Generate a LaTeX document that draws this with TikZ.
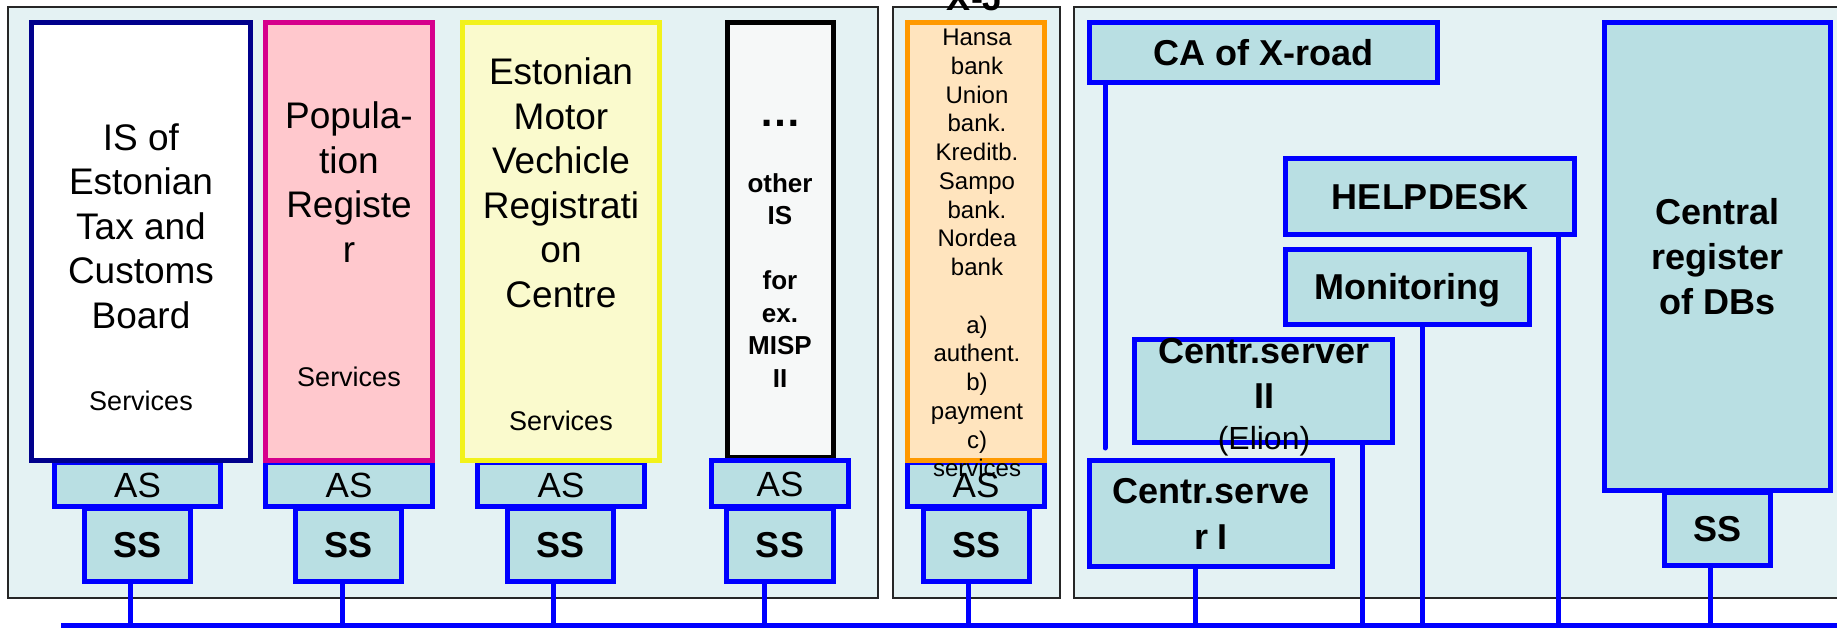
\documentclass[tikz,border=0pt]{standalone}
\usepackage{fontspec}
\setmainfont{Liberation Sans}
\definecolor{xblue}{RGB}{0,0,255}
\definecolor{xteal}{RGB}{185,223,227}
\definecolor{xpanel}{RGB}{228,242,243}
\definecolor{xnavy}{RGB}{0,0,140}
\definecolor{xmag}{RGB}{214,0,140}
\definecolor{xpink}{RGB}{255,200,205}
\definecolor{xyel}{RGB}{242,242,26}
\definecolor{xyelfill}{RGB}{250,250,205}
\definecolor{xorange}{RGB}{255,153,0}
\definecolor{xorfill}{RGB}{255,228,190}
\definecolor{xoff}{RGB}{246,248,248}
\begin{document}
\begin{tikzpicture}[x=1pt,y=-1pt,
  box/.style={rectangle, draw=xblue, fill=xteal, line width=5pt, inner sep=0pt},
  isbox/.style={rectangle, line width=5pt, inner sep=0pt},
  panel/.style={draw=black!85, line width=2pt, fill=xpanel},
  conn/.style={draw=xblue, line width=5pt},
  astxt/.style={font=\fontsize{35}{42}\selectfont, text height=25pt, text depth=0pt},
  sstxt/.style={font=\fontsize{36}{44}\selectfont\bfseries, text height=25.8pt, text depth=0pt},
  labtxt/.style={font=\fontsize{36}{45}\selectfont\bfseries, text height=25.8pt, text depth=0pt},
  big/.style={font=\fontsize{37}{44.5}\selectfont, align=center, inner sep=0pt},
  svc/.style={font=\fontsize{27}{32}\selectfont, inner sep=0pt},
  othtxt/.style={font=\fontsize{26}{32.5}\selectfont\bfseries, align=center, inner sep=0pt},
  bank/.style={font=\fontsize{24}{28.75}\selectfont, align=center, inner sep=0pt},
  mlab/.style={font=\fontsize{36}{45}\selectfont\bfseries, align=center, inner sep=0pt}
]
\useasboundingbox (0,0) rectangle (1837,628);
\clip (0,0) rectangle (1837,628);
% panels
\draw[panel] (8,7) rectangle (878,598);
\draw[panel] (893,7) rectangle (1060,598);
\draw[panel] (1074,7) rectangle (1860,598);
% title (cut off at top)
\node[anchor=base, inner sep=0pt, font=\fontsize{36}{40}\selectfont\bfseries] (title) at (975,11) {X-J};
% column 1
\node[box, astxt, minimum width=166pt, minimum height=44pt] (AS1) at (137.5,484.5) {AS};
\node[box, sstxt, minimum width=106pt, minimum height=73pt] (SS1) at (137.5,545) {SS};
\node[isbox, draw=xnavy, fill=white, minimum width=219pt, minimum height=438pt] (IS1) at (141,241.5) {};
% column 2
\node[box, astxt, minimum width=167pt, minimum height=44pt] (AS2) at (349,484.5) {AS};
\node[box, sstxt, minimum width=106pt, minimum height=73pt] (SS2) at (348.5,545) {SS};
\node[isbox, draw=xmag, fill=xpink, minimum width=167pt, minimum height=438pt] (POP) at (349,241.5) {};
% column 3
\node[box, astxt, minimum width=167pt, minimum height=44pt] (AS3) at (561,484.5) {AS};
\node[box, sstxt, minimum width=106pt, minimum height=73pt] (SS3) at (560.5,545) {SS};
\node[isbox, draw=xyel, fill=xyelfill, minimum width=197pt, minimum height=438pt] (MOT) at (561,241.5) {};
% column 4
\node[isbox, draw=black, fill=xoff, minimum width=106pt, minimum height=435pt] (OTH) at (780.5,240) {};
\node[box, astxt, minimum width=137pt, minimum height=46pt] (AS4) at (780,483.5) {AS};
\node[box, sstxt, minimum width=107pt, minimum height=73pt] (SS4) at (780,545) {SS};
% column 5 (banks)
\node[box, astxt, minimum width=137pt, minimum height=44pt] (AS5) at (976,484.5) {AS};
\node[box, sstxt, minimum width=106pt, minimum height=73pt] (SS5) at (976.5,545) {SS};
\node[isbox, draw=xorange, fill=xorfill, minimum width=137pt, minimum height=438pt] (ORA) at (976,241.5) {};
% central services
\node[box, labtxt, minimum width=348pt, minimum height=60pt] (CA) at (1263.5,52.5) {CA of X-road};
\node[box, labtxt, minimum width=289pt, minimum height=76pt] (HD) at (1430,196.5) {HELPDESK};
\node[box, labtxt, minimum width=244pt, minimum height=75pt] (MON) at (1407.5,287) {Monitoring};
\node[box, minimum width=258pt, minimum height=103pt] (CS2) at (1263.5,391) {};
\node[box, mlab, font=\fontsize{36}{46}\selectfont\bfseries, minimum width=243pt, minimum height=106pt] (CS1) at (1211,513.5) {Centr.serve\\r I};
\node[box, mlab, minimum width=226pt, minimum height=468pt] (CR) at (1717.5,256.5) {Central\\register\\of DBs};
\node[box, sstxt, minimum width=106pt, minimum height=73pt] (SS6) at (1717.5,529) {SS};
% texts
\node[big, anchor=north] (ISt) at (141,123.5) {IS of\\Estonian\\Tax and\\Customs\\Board};
\node[svc, anchor=base] (ISs) at (141,410.5) {Services};
\node[big, anchor=north] (POPt) at (349,101.5) {Popula-\\tion\\Registe\\r};
\node[svc, anchor=base] (POPs) at (349,386.5) {Services};
\node[big, anchor=north] (MOTt) at (561,57.5) {Estonian\\Motor\\Vechicle\\Registrati\\on\\Centre};
\node[svc, anchor=base] (MOTs) at (561,430.5) {Services};
\node[anchor=base, inner sep=0pt, font=\fontsize{42}{44}\selectfont\bfseries] (OTHd) at (780,127) {…};
\node[othtxt, anchor=north] (OTHt) at (780,173.4) {other\\IS\\[32.5pt]for\\ex.\\MISP\\II};
\node[bank, anchor=north] (ORAt) at (977,28.8) {Hansa\\bank\\Union\\bank.\\Kreditb.\\Sampo\\bank.\\Nordea\\bank\\[28.75pt]a)\\authent.\\b)\\payment\\c)\\services};
\node[mlab, anchor=north] (CS2t) at (1264,338) {Centr.server\\II};
\node[anchor=base, inner sep=0pt, font=\fontsize{32}{40}\selectfont] (CS2e) at (1264,449) {(Elion)};
% bus and connectors
\coordinate (busL) at (61,625.5);
\coordinate (busR) at (1837,625.5);
\coordinate (caend) at (1105,448);
\draw[conn] (busL) -- (busR);
\draw[conn] ([xshift=-7.5pt]SS1.south) -- ([xshift=-7.5pt]SS1.south |- busL);
\draw[conn] ([xshift=-6.5pt]SS2.south) -- ([xshift=-6.5pt]SS2.south |- busL);
\draw[conn] ([xshift=-7.5pt]SS3.south) -- ([xshift=-7.5pt]SS3.south |- busL);
\draw[conn] ([xshift=-16pt]SS4.south) -- ([xshift=-16pt]SS4.south |- busL);
\draw[conn] ([xshift=-8.5pt]SS5.south) -- ([xshift=-8.5pt]SS5.south |- busL);
\draw[conn] ([xshift=-16pt]CS1.south) -- ([xshift=-16pt]CS1.south |- busL);
\draw[conn] ([xshift=98.5pt]CS2.south) -- ([xshift=98.5pt]CS2.south |- busL);
\draw[conn] ([xshift=14.5pt]MON.south) -- ([xshift=14.5pt]MON.south |- busL);
\draw[conn] ([xshift=128pt]HD.south) -- ([xshift=128pt]HD.south |- busL);
\draw[conn] ([xshift=-7.5pt]SS6.south) -- ([xshift=-7.5pt]SS6.south |- busL);
\draw[conn, line cap=round] ([xshift=-158.5pt]CA.south) -- (caend);
\end{tikzpicture}
\end{document}
